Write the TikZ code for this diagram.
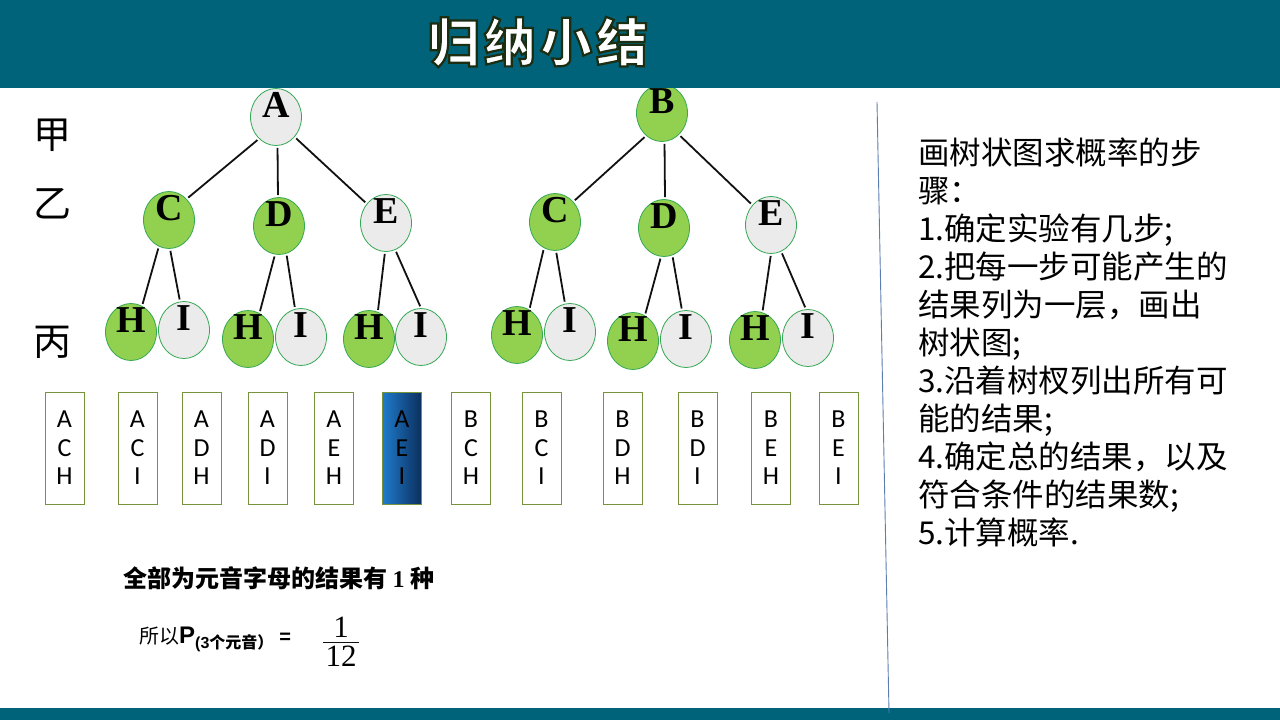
\documentclass[tikz,border=0pt]{standalone}
\usepackage{fontspec}
\usetikzlibrary{shapes.geometric}
\newfontfamily\cjk{Noto Sans CJK SC}
\newfontfamily\tms{Liberation Serif}
\newfontfamily\ars{Liberation Sans}
\newfontfamily\boxfont{Carlito}
\definecolor{cBar}{HTML}{00637A}
\definecolor{cLeaf}{HTML}{92D050}
\definecolor{cPale}{HTML}{EBEBEB}
\definecolor{cRim}{HTML}{35A853}
\definecolor{cOlive}{HTML}{77933C}
\definecolor{cRule}{HTML}{5B7DB1}
\definecolor{cBlueL}{HTML}{1F7BCB}
\definecolor{cBlueR}{HTML}{0B2F5E}
\definecolor{cInk}{HTML}{111111}
\newcommand{\rimtext}[1]{\special{pdf:literal direct 2 Tr 2.2 w 0.11 0.18 0.07 RG}#1\special{pdf:literal direct 0 Tr}}
\tikzset{
  ball/.style ={ellipse,draw=cRim,line width=0.8pt,minimum width=51pt,minimum height=57pt,inner sep=0pt},
  gball/.style={ball,fill=cLeaf}, wball/.style={ball,fill=cPale},
  ltr/.style  ={font=\tms\bfseries\fontsize{38}{38}\selectfont,yshift=12pt,inner sep=0pt},
  twig/.style ={line width=1.8pt,cInk,shorten <=2pt,shorten >=2pt},
  cell/.style ={draw=cOlive,line width=0.8pt,minimum width=39pt,minimum height=112pt,inner sep=0pt,
                align=center,font=\boxfont\fontsize{26}{28.5}\selectfont},
  hot/.style  ={cell,left color=cBlueL,right color=cBlueR},
  tier/.style ={font=\cjk\fontsize{38}{38}\selectfont,inner sep=0pt},
  steptxt/.style={anchor=base west,inner sep=0pt,font=\cjk\fontsize{31.5}{38}\selectfont},
}

\begin{document}
\begin{tikzpicture}[x=1pt,y=-1pt]
\useasboundingbox (0,0) rectangle (1280,720);
\fill[white] (0,0) rectangle (1280,720);

% left tree
\node[wball,label={[ltr]center:A}] (A)   at (276,117) {};
\node[gball,label={[ltr]center:C}] (lC)  at (169,220) {};
\node[gball,label={[ltr]center:D}] (lD)  at (279,226) {};
\node[wball,label={[ltr]center:E}] (lE)  at (386,223) {};
\node[gball,label={[ltr]center:H}] (lH1) at (131,332) {};
\node[wball,label={[ltr]center:I}] (lI1) at (184,330) {};
\node[gball,label={[ltr]center:H}] (lH2) at (248,339) {};
\node[wball,label={[ltr]center:I}] (lI2) at (301,337) {};
\node[gball,label={[ltr]center:H}] (lH3) at (369,339) {};
\node[wball,label={[ltr]center:I}] (lI3) at (421,337) {};
\draw[twig] (A.232) -- (lC.50);  \draw[twig] (A.273) -- (lD.92);  \draw[twig] (A.313) -- (lE.135);
\draw[twig] (lC.249) -- (lH1.67); \draw[twig] (lC.272) -- (lI1.98);
\draw[twig] (lD.262) -- (lH2.66); \draw[twig] (lD.285) -- (lI2.102);
\draw[twig] (lE.268) -- (lH3.72); \draw[twig] (lE.289) -- (lI3.90);

% right tree
\node[gball,label={[ltr]center:B}] (B)   at (662,113) {};
\node[gball,label={[ltr]center:C}] (rC)  at (555,222) {};
\node[gball,label={[ltr]center:D}] (rD)  at (664,228) {};
\node[wball,label={[ltr]center:E}] (rE)  at (771,225) {};
\node[gball,label={[ltr]center:H}] (rH1) at (517,335) {};
\node[wball,label={[ltr]center:I}] (rI1) at (570,332) {};
\node[gball,label={[ltr]center:H}] (rH2) at (633,341) {};
\node[wball,label={[ltr]center:I}] (rI2) at (686,339) {};
\node[gball,label={[ltr]center:H}] (rH3) at (755,340) {};
\node[wball,label={[ltr]center:I}] (rI3) at (808,338) {};
\draw[twig] (B.235) -- (rC.48);  \draw[twig] (B.275) -- (rD.88);  \draw[twig] (B.308) -- (rE.133);
\draw[twig] (rC.247) -- (rH1.64); \draw[twig] (rC.272) -- (rI1.100);
\draw[twig] (rD.264) -- (rH2.65); \draw[twig] (rD.287) -- (rI2.98);
\draw[twig] (rE.270) -- (rH3.75); \draw[twig] (rE.291) -- (rI3.94);

% header and footer bars
\fill[cBar] (0,0) rectangle (1280,88);
\fill[cBar] (0,708) rectangle (1280,720);
\node[text=white,font=\cjk\bfseries\fontsize{52}{52}\selectfont] (ttl) at (538,42)
  {\rimtext{归\hspace{4pt}纳\hspace{4pt}小\hspace{4pt}结}};

% stage labels
\node[tier] (jia)  at (53,135) {甲};
\node[tier] (yi)   at (53,204) {乙};
\node[tier] (bing) at (53,342) {丙};

% outcome cells
\foreach \cx/\t [count=\k] in {64.5/{A\\C\\H},137.5/{A\\C\\I},201.5/{A\\D\\H},267.5/{A\\D\\I},334/{A\\E\\H},
    471/{B\\C\\H},541.5/{B\\C\\I},622.5/{B\\D\\H},697.5/{B\\D\\I},771/{B\\E\\H},838.5/{B\\E\\I}}
  \node[cell] (o\k) at (\cx,448) {\t};
\node[hot] (aei) at (402,448) {A\\E\\I};

% conclusion
\node[anchor=base west,inner sep=0pt,font=\cjk\bfseries\fontsize{24}{24}\selectfont] (sum) at (123,587)
  {全部为元音字母的结果有 {\tms\bfseries 1} 种};
\node[anchor=base west,inner sep=0pt,font=\cjk\fontsize{20}{20}\selectfont] (prob) at (139,643)
  {所以{\ars\bfseries\fontsize{24}{24}\selectfont P}\raisebox{-5pt}{\bfseries\fontsize{16}{16}\selectfont{\ars(3}个元音）}\hspace{6pt}{\ars\bfseries =}};
\node[inner sep=0pt,font=\tms\fontsize{31}{31}\selectfont] (num) at (341,627) {1};
\node[inner sep=0pt,font=\tms\fontsize{31}{31}\selectfont] (den) at (341,656) {12};
\draw[line width=1pt,cInk] ([xshift=-2pt,yshift=3pt]den.north west) -- ([xshift=2pt,yshift=3pt]den.north east);

% divider
\draw[cRule,line width=0.9pt] (877,102) -- (889,713);

% steps
\foreach \t [count=\i] in {画树状图求概率的步,骤：,1.确定实验有几步;,2.把每一步可能产生的,结果列为一层，画出,树状图;,
    3.沿着树杈列出所有可,能的结果;,4.确定总的结果，以及,符合条件的结果数;,5.计算概率.}
  \node[steptxt] (s\i) at (918,164.5+38*\i-38) {\t};
\end{tikzpicture}
\end{document}
